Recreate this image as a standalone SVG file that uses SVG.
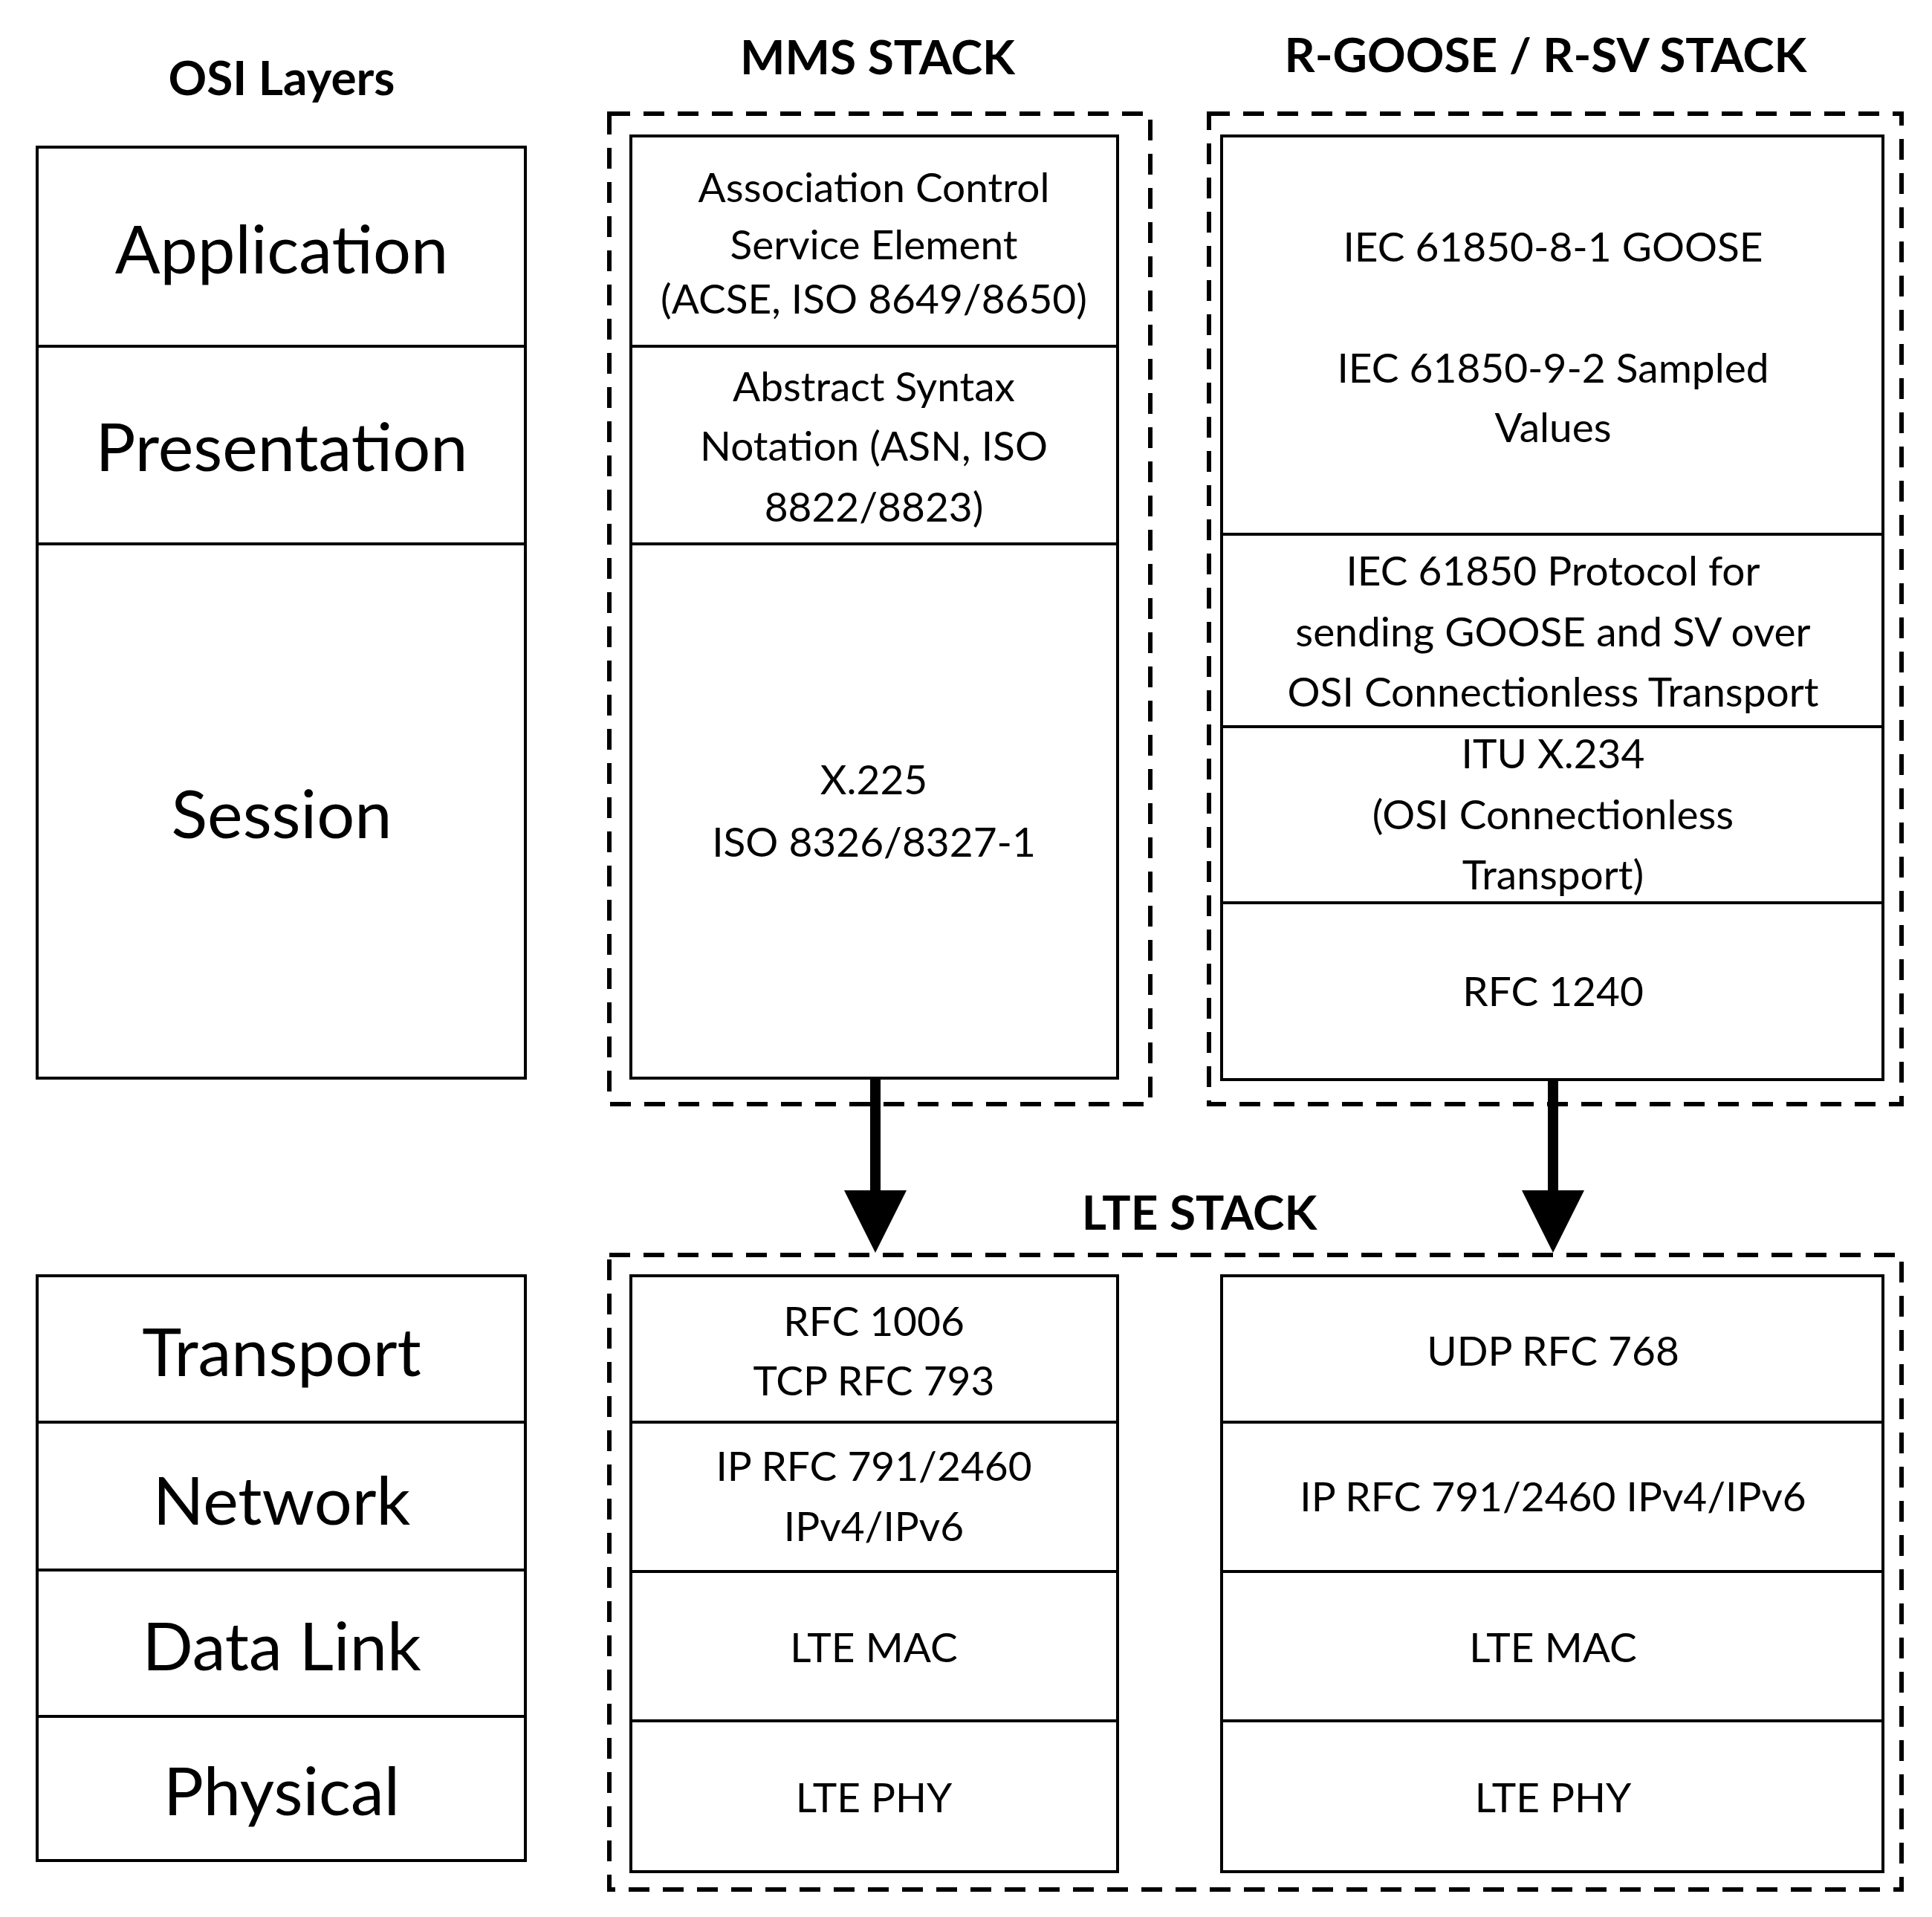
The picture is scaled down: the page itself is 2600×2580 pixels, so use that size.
<svg xmlns="http://www.w3.org/2000/svg" width="2600" height="2580" viewBox="0 0 2600 2580">
<style>
text{font-family:Lato,"Open Sans","Liberation Sans",sans-serif;text-anchor:middle;dominant-baseline:central;fill:#000}
.t{font-weight:bold;font-size:64px}
.l{font-size:90px}
.b{font-size:55px}
.box{fill:#fff;stroke:#000;stroke-width:4}
.div{stroke:#000;stroke-width:4}
.dash{fill:none;stroke:#000;stroke-width:6;stroke-dasharray:28 18}
</style>
<defs><marker id="ah" markerWidth="6" markerHeight="6" refX="5" refY="3" orient="auto" markerUnits="strokeWidth"><path d="M0,0L6,3L0,6Z" fill="#000"/></marker></defs>
<rect width="2600" height="2580" fill="#fff"/>
<text class="t" x="379" y="103">OSI Layers</text>
<text class="t" x="1181" y="75">MMS STACK</text>
<text class="t" x="2080" y="72">R-GOOSE / R-SV STACK</text>
<text class="t" x="1614" y="1630">LTE STACK</text>
<g id="osi-upper">
<rect class="box" x="50" y="198" width="657" height="1253"/>
<line class="div" x1="50" y1="466" x2="707" y2="466"/><line class="div" x1="50" y1="732" x2="707" y2="732"/>
<text class="l" x="379" y="333">Application</text>
<text class="l" x="379" y="599">Presentation</text>
<text class="l" x="379" y="1093">Session</text>
</g>
<g id="osi-lower">
<rect class="box" x="50" y="1717" width="657" height="787"/>
<line class="div" x1="50" y1="1914" x2="707" y2="1914"/><line class="div" x1="50" y1="2113" x2="707" y2="2113"/><line class="div" x1="50" y1="2310" x2="707" y2="2310"/>
<text class="l" x="379" y="1817">Transport</text>
<text class="l" x="379" y="2017">Network</text>
<text class="l" x="379" y="2213">Data Link</text>
<text class="l" x="379" y="2408">Physical</text>
</g>
<g id="mms-stack">
<rect class="dash" x="820" y="153" width="728" height="1333"/>
<rect class="box" x="849" y="183" width="655" height="1268"/>
<line class="div" x1="849" y1="466" x2="1504" y2="466"/><line class="div" x1="849" y1="732" x2="1504" y2="732"/>
<text class="b" x="1176" y="251">Association Control</text>
<text class="b" x="1176" y="328">Service Element</text>
<text class="b" x="1176" y="401">(ACSE, ISO 8649/8650)</text>
<text class="b" x="1176" y="519">Abstract Syntax</text>
<text class="b" x="1176" y="599">Notation (ASN, ISO</text>
<text class="b" x="1176" y="681">8822/8823)</text>
<text class="b" x="1176" y="1048">X.225</text>
<text class="b" x="1176" y="1132">ISO 8326/8327-1</text>
</g>
<g id="rgoose-stack">
<rect class="dash" x="1627" y="153" width="932" height="1333"/>
<rect class="box" x="1644" y="183" width="890" height="1270"/>
<line class="div" x1="1644" y1="719" x2="2534" y2="719"/><line class="div" x1="1644" y1="978" x2="2534" y2="978"/><line class="div" x1="1644" y1="1215" x2="2534" y2="1215"/>
<text class="b" x="2090" y="331">IEC 61850-8-1 GOOSE</text>
<text class="b" x="2090" y="494">IEC 61850-9-2 Sampled</text>
<text class="b" x="2090" y="574">Values</text>
<text class="b" x="2090" y="767">IEC 61850 Protocol for</text>
<text class="b" x="2090" y="849">sending GOOSE and SV over</text>
<text class="b" x="2090" y="930">OSI Connectionless Transport</text>
<text class="b" x="2090" y="1013">ITU X.234</text>
<text class="b" x="2090" y="1095">(OSI Connectionless</text>
<text class="b" x="2090" y="1176">Transport)</text>
<text class="b" x="2090" y="1333">RFC 1240</text>
</g>
<g id="lte-stack">
<rect class="dash" x="820" y="1689" width="1739" height="854"/>
<rect class="box" x="849" y="1717" width="655" height="802"/>
<line class="div" x1="849" y1="1914" x2="1504" y2="1914"/><line class="div" x1="849" y1="2115" x2="1504" y2="2115"/><line class="div" x1="849" y1="2316" x2="1504" y2="2316"/>
<text class="b" x="1176" y="1777">RFC 1006</text>
<text class="b" x="1176" y="1857">TCP RFC 793</text>
<text class="b" x="1176" y="1972">IP RFC 791/2460</text>
<text class="b" x="1176" y="2053">IPv4/IPv6</text>
<text class="b" x="1176" y="2216">LTE MAC</text>
<text class="b" x="1176" y="2418">LTE PHY</text>
<rect class="box" x="1644" y="1717" width="890" height="802"/>
<line class="div" x1="1644" y1="1914" x2="2534" y2="1914"/><line class="div" x1="1644" y1="2115" x2="2534" y2="2115"/><line class="div" x1="1644" y1="2316" x2="2534" y2="2316"/>
<text class="b" x="2090" y="1817">UDP RFC 768</text>
<text class="b" x="2090" y="2013">IP RFC 791/2460 IPv4/IPv6</text>
<text class="b" x="2090" y="2216">LTE MAC</text>
<text class="b" x="2090" y="2418">LTE PHY</text>
</g>
<g id="connectors">
<line x1="1178" y1="1452" x2="1178" y2="1672" stroke="#000" stroke-width="14" marker-end="url(#ah)"/>
<line x1="2090" y1="1453" x2="2090" y2="1672" stroke="#000" stroke-width="14" marker-end="url(#ah)"/>
</g>
</svg>
